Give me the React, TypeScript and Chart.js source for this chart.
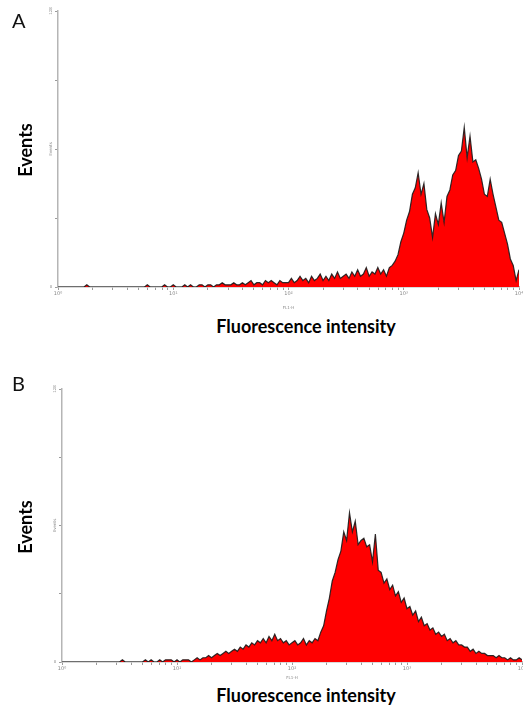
import React, { useEffect, useRef } from 'react';
import { Chart, registerables } from 'chart.js';

Chart.register(...registerables);

// ---- data (counts per channel, 40 channels per decade, 10^0 .. 10^4) ----
const BINS_PER_DECADE = 40;
const X_MIN = 1;
const X_MAX = 10000;
const Y_MAX = 128;
const Y_TICKS = [0, 32, 64, 96, 128];
const Y_LABEL_VALUES = [0, 64, 128];
const Y_LABEL_TEXTS = ['0', 'Events', '128'];
const DECADES = [1, 10, 100, 1000, 10000];
const DECADE_LABELS = ['10⁰', '10¹', '10²', '10³', '10⁴'];
const X_CHANNEL_LABEL = 'FL1-H';

const countsA = [
  0, 0, 0, 0, 0, 0, 0, 0, 0, 0, 1, 0, 0, 0, 0, 0, 0, 0, 0, 0,
  0, 0, 0, 0, 0, 0, 0, 0, 0, 0, 0, 1, 0, 0, 0, 0, 0, 1, 0, 0,
  1, 0, 0, 0, 1, 0, 1, 0, 0, 1, 1, 0, 1, 1, 0, 1, 1, 2, 1, 1,
  1, 2, 1, 1, 2, 1, 2, 3, 1, 2, 2, 1, 3, 2, 3, 2, 1, 3, 2, 2,
  2, 4, 2, 3, 5, 3, 4, 2, 5, 3, 4, 6, 3, 5, 3, 6, 4, 7, 4, 5,
  6, 4, 7, 5, 8, 5, 6, 9, 5, 7, 6, 9, 6, 8, 5, 9, 10, 12, 15, 21,
  25, 31, 35, 43, 46, 53, 43, 48, 36, 32, 23, 34, 29, 39, 30, 42, 45, 52, 54, 61,
  63, 74, 60, 70, 58, 59, 55, 50, 43, 42, 50, 43, 37, 31, 30, 25, 20, 13, 10, 3,
  8,
];

const countsB = [
  0, 0, 0, 0, 0, 0, 0, 0, 0, 0, 0, 0, 0, 0, 0, 0, 0, 0, 0, 0,
  0, 1, 0, 0, 0, 0, 0, 0, 0, 1, 0, 1, 0, 0, 1, 0, 1, 1, 1, 0,
  1, 0, 1, 1, 1, 0, 1, 2, 1, 2, 2, 3, 2, 3, 4, 3, 4, 5, 4, 5,
  6, 5, 7, 6, 8, 7, 9, 8, 10, 9, 11, 9, 12, 10, 13, 10, 11, 9, 10, 8,
  9, 10, 8, 9, 11, 8, 10, 9, 11, 10, 14, 17, 24, 30, 38, 42, 48, 52, 61, 57,
  70, 61, 66, 55, 57, 58, 54, 55, 47, 60, 43, 42, 37, 39, 34, 36, 31, 33, 28, 30,
  25, 26, 22, 24, 19, 21, 17, 18, 15, 16, 13, 14, 12, 13, 10, 11, 9, 10, 8, 8,
  7, 7, 5, 6, 4, 5, 4, 4, 3, 3, 3, 2, 3, 2, 2, 1, 2, 1, 1, 2,
  1,
];

type Geom = { left: number; top: number; width: number; height: number; areaLeft: number; areaTop: number; areaRight: number; areaBottom: number };

const GEOM_A: Geom = { left: 0, top: 0, width: 523, height: 310, areaLeft: 58, areaTop: 11, areaRight: 519, areaBottom: 287 };
const GEOM_B: Geom = { left: 0, top: 370, width: 523, height: 310, areaLeft: 62, areaTop: 389, areaRight: 522, areaBottom: 662 };

const yLabelPlugin = {
  id: 'yLabels',
  afterDraw(chart: any) {
    const { ctx, chartArea, scales } = chart;
    const ys = scales.y;
    ctx.save();
    ctx.fillStyle = '#8a8a8a';
    ctx.font = '4px "DejaVu Sans"';
    ctx.textAlign = 'center';
    ctx.textBaseline = 'middle';
    Y_LABEL_VALUES.forEach((v, k) => {
      const py = ys.getPixelForValue(v);
      const px = chartArea.left - 7;
      ctx.save();
      ctx.translate(px, py);
      if (v !== 0) ctx.rotate(-Math.PI / 2);
      ctx.fillText(Y_LABEL_TEXTS[k], 0, 0);
      ctx.restore();
    });
    ctx.restore();
  },
};

function makeChart(canvas: HTMLCanvasElement, counts: number[], g: Geom) {
  const points = counts.map((c, i) => ({ x: Math.pow(10, i / BINS_PER_DECADE), y: c }));
  const xTicks: number[] = [];
  for (let d = 0; d < 4; d++) {
    for (let m = 1; m < 10; m++) xTicks.push(m * DECADES[d]);
  }
  xTicks.push(X_MAX);
  return new Chart(canvas, {
    type: 'line',
    data: {
      datasets: [
        {
          data: points,
          borderColor: 'rgba(25,25,25,0.9)',
          borderWidth: 1.2,
          backgroundColor: '#ff0000',
          fill: 'origin',
          pointRadius: 0,
          tension: 0,
        },
      ],
    },
    options: {
      animation: false,
      responsive: false,
      maintainAspectRatio: false,
      layout: {
        padding: { left: 0, top: g.areaTop - g.top, right: g.width - g.areaRight, bottom: 0 },
      },
      plugins: { legend: { display: false }, tooltip: { enabled: false } },
      scales: {
        x: {
          type: 'logarithmic',
          min: X_MIN,
          max: X_MAX,
          afterBuildTicks: (s: any) => {
            s.ticks = xTicks.map((v) => ({ value: v }));
          },
          afterFit: (s: any) => {
            s.height = g.top + g.height - g.areaBottom;
            s.paddingLeft = 0;
            s.paddingRight = 0;
          },
          ticks: {
            autoSkip: false,
            maxRotation: 0,
            padding: 1,
            color: '#888',
            font: { size: 5, family: 'DejaVu Sans' },
            callback: (v: any) => {
              const k = DECADES.indexOf(Number(v));
              return k >= 0 ? DECADE_LABELS[k] : '';
            },
          },
          grid: { drawOnChartArea: false, drawTicks: true, tickLength: 3, color: '#9a9a9a' },
          border: { color: '#b5b5b5', width: 1.5 },
          title: { display: true, text: X_CHANNEL_LABEL, color: '#888', font: { size: 4, family: 'DejaVu Sans' }, padding: 0 },
        },
        y: {
          min: 0,
          max: Y_MAX,
          afterBuildTicks: (s: any) => {
            s.ticks = Y_TICKS.map((v) => ({ value: v }));
          },
          afterFit: (s: any) => {
            s.width = g.areaLeft - g.left;
            s.paddingTop = 0;
            s.paddingBottom = 0;
          },
          ticks: { callback: () => '', padding: 0 },
          grid: { drawOnChartArea: false, drawTicks: true, tickLength: 3, color: '#9a9a9a' },
          border: { color: '#b5b5b5', width: 1.5 },
        },
      },
    },
    plugins: [yLabelPlugin],
  } as any);
}

function Panel({ counts, g, letter, letterTop, eventsY, fluorY }: { counts: number[]; g: Geom; letter: string; letterTop: number; eventsY: number; fluorY: number }) {
  const ref = useRef<HTMLCanvasElement>(null);
  useEffect(() => {
    if (!ref.current) return;
    const c = makeChart(ref.current, counts, g);
    return () => c.destroy();
  }, []);
  return (
    <>
      <canvas
        ref={ref}
        width={g.width}
        height={g.height}
        style={{ position: 'absolute', left: g.left, top: g.top, width: g.width, height: g.height }}
      />
      <div style={{ position: 'absolute', left: 12, top: letterTop, fontFamily: 'Lato, "Liberation Sans", sans-serif', fontSize: 20, lineHeight: '20px', color: '#111' }}>
        {letter}
      </div>
      <div
        style={{
          position: 'absolute',
          left: 25,
          top: eventsY,
          transform: 'translate(-50%, -50%) rotate(-90deg)',
          fontFamily: 'Lato, "Open Sans", sans-serif',
          fontWeight: 700,
          fontSize: 18,
          whiteSpace: 'nowrap',
          color: '#000',
        }}
      >
        Events
      </div>
      <div
        style={{
          position: 'absolute',
          left: 306,
          top: fluorY,
          transform: 'translate(-50%, -50%)',
          fontFamily: 'Lato, "Open Sans", sans-serif',
          fontWeight: 700,
          fontSize: 18,
          whiteSpace: 'nowrap',
          color: '#000',
        }}
      >
        Fluorescence intensity
      </div>
    </>
  );
}

export default function App() {
  return (
    <div style={{ position: 'fixed', left: 0, top: 0, width: 523, height: 710, background: '#fff', overflow: 'hidden' }}>
      <Panel counts={countsA} g={GEOM_A} letter="A" letterTop={10} eventsY={150} fluorY={326} />
      <Panel counts={countsB} g={GEOM_B} letter="B" letterTop={373} eventsY={527} fluorY={695} />
    </div>
  );
}
